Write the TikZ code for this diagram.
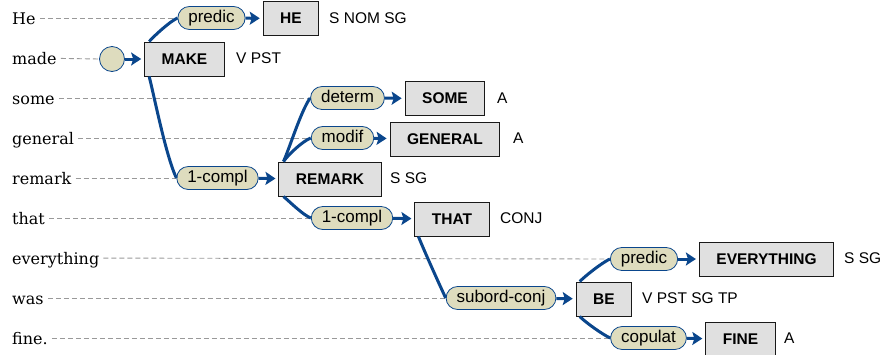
\documentclass[tikz,border=0pt]{standalone}
\usepackage{fontspec}
\setmainfont{Liberation Sans}
\newfontfamily\wordfont{DejaVu Serif}
\usetikzlibrary{arrows.meta}

\definecolor{linkblue}{RGB}{10,70,140}
\definecolor{relfill}{RGB}{222,220,190}
\definecolor{lexfill}{RGB}{224,224,224}

\tikzset{
  word/.style={anchor=west, inner xsep=4pt, inner ysep=0pt, text height=12pt, text depth=0pt, font=\wordfont\fontsize{16}{18}\selectfont},
  guide/.style={draw=gray!80, dash pattern=on 5pt off 3pt, line width=0.9pt},
  rel/.style={draw=linkblue, line width=0.8pt, fill=relfill, rounded corners=11.5pt, minimum height=23pt, inner xsep=10.5pt, inner ysep=0pt, text height=12.5pt, text depth=3.5pt, font=\fontsize{17}{19}\selectfont},
  lex/.style={draw=black!90, line width=1pt, fill=lexfill, minimum height=34pt, inner xsep=17pt, inner ysep=0pt, font=\fontsize{15.5}{18}\selectfont\bfseries},
  feat/.style={anchor=west, inner sep=0pt, font=\fontsize{15.5}{18}\selectfont},
  link/.style={draw=linkblue, line width=3pt, looseness=0.6},
  arr/.style={link, -{Stealth[length=10pt,width=13pt,inset=2pt]}, shorten >=3pt},
}

\begin{document}
\begin{tikzpicture}[x=1pt, y=1pt]
  \useasboundingbox (0,0) rectangle (884,-354);

  % the sentence, one word per row
  \node[word] (wHe) at (8,-18) {He};
  \node[word] (wMade) at (8,-58) {made};
  \node[word] (wSome) at (8,-98) {some};
  \node[word] (wGeneral) at (8,-138) {general};
  \node[word] (wRemark) at (8,-178) {remark};
  \node[word] (wThat) at (8,-218) {that};
  \node[word] (wEverything) at (8,-258) {everything};
  \node[word] (wWas) at (8,-298) {was};
  \node[word] (wFine) at (8,-338) {fine.};

  % relation labels
  \node[draw=linkblue, line width=0.8pt, fill=relfill, circle, minimum size=25pt, inner sep=0pt] (root) at (112,-59) {};
  \node[rel] (rPredic) at (211.5,-18) {predic};
  \node[rel] (rCompl) at (217.5,-178) {1-compl};
  \node[rel] (rDeterm) at (347.5,-98) {determ};
  \node[rel] (rModif) at (342.5,-138) {modif};
  \node[rel] (rComplB) at (352,-218) {1-compl};
  \node[rel] (rSubord) at (501,-298) {subord-conj};
  \node[rel] (rPredicB) at (644,-259) {predic};
  \node[rel] (rCopulat) at (648.5,-338) {copulat};

  % lexemes
  \node[lex] (he) at (291,-18.5) {HE};
  \node[lex] (make) at (184.5,-59) {MAKE};
  \node[lex] (some) at (445,-98.5) {SOME};
  \node[lex] (general) at (445,-139) {GENERAL};
  \node[lex] (remark) at (330,-179) {REMARK};
  \node[lex] (that) at (452,-219) {THAT};
  \node[lex] (everything) at (766.5,-259) {EVERYTHING};
  \node[lex] (be) at (604,-299) {BE};
  \node[lex] (fine) at (740.5,-339) {FINE};

  % grammemes
  \node[feat] at (329,-18) {S NOM SG};
  \node[feat] at (236,-58) {V PST};
  \node[feat] at (497,-98) {A};
  \node[feat] at (513,-138) {A};
  \node[feat] at (390,-178) {S SG};
  \node[feat] at (500,-218) {CONJ};
  \node[feat] at (844,-258) {S SG};
  \node[feat] at (642,-298) {V PST SG TP};
  \node[feat] at (784,-338) {A};

  % dashed guides from words
  \draw[guide] (wHe) -- (rPredic.west);
  \draw[guide] (wMade) -- (root.west);
  \draw[guide] (wSome) -- (rDeterm.west);
  \draw[guide] (wGeneral) -- (rModif.west);
  \draw[guide] (wRemark) -- (rCompl.west);
  \draw[guide] (wThat) -- (rComplB.west);
  \draw[guide] (wEverything) -- (rPredicB.west);
  \draw[guide] (wWas) -- (rSubord.west);
  \draw[guide] (wFine) -- (rCopulat.west);

  % tree branches
  \draw[link] ([xshift=5pt]make.north west) to[out=48, in=205] (rPredic.west);
  \draw[link] ([xshift=5pt]make.south west) to[out=-76, in=115] (rCompl.west);
  \draw[link] ([xshift=5pt]remark.north west) to[out=66, in=235] (rDeterm.west);
  \draw[link] ([xshift=5pt]remark.north west) to[out=55, in=200] (rModif.west);
  \draw[link] ([xshift=5pt]remark.south west) to[out=-40, in=160] (rComplB.west);
  \draw[link] ([xshift=4pt]that.south west) to[out=-68, in=115] (rSubord.west);
  \draw[link] ([xshift=4pt]be.north west) to[out=45, in=205] (rPredicB.west);
  \draw[link] ([xshift=4pt]be.south west) to[out=-45, in=155] (rCopulat.west);

  % arrows into lexemes
  \draw[arr] (root) -- (make);
  \draw[arr] (rPredic) -- (he);
  \draw[arr] (rCompl) -- (remark);
  \draw[arr] (rDeterm) -- (some);
  \draw[arr] (rModif) -- (general);
  \draw[arr] (rComplB) -- (that);
  \draw[arr] (rSubord) -- (be);
  \draw[arr] (rPredicB) -- (everything);
  \draw[arr] (rCopulat) -- (fine);
\end{tikzpicture}
\end{document}
